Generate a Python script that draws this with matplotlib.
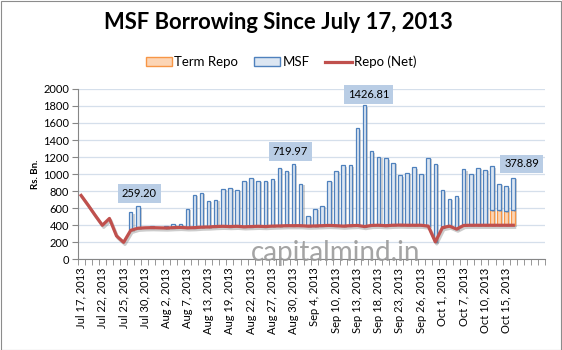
import matplotlib
matplotlib.use("Agg")
import matplotlib.pyplot as plt
import matplotlib.patheffects as pe
from matplotlib.patches import Patch, Rectangle
from matplotlib.lines import Line2D
import numpy as np

plt.rcParams['font.family'] = ['Lato', 'DejaVu Sans']

# business days shown on the axis (holidays skipped), then 4 empty slots
dates = ["Jul 17", "Jul 18", "Jul 19", "Jul 22", "Jul 23", "Jul 24", "Jul 25", "Jul 26",
         "Jul 29", "Jul 30", "Jul 31", "Aug 1", "Aug 2", "Aug 5", "Aug 6", "Aug 7",
         "Aug 8", "Aug 12", "Aug 13", "Aug 14", "Aug 16", "Aug 19", "Aug 20", "Aug 21",
         "Aug 22", "Aug 23", "Aug 26", "Aug 27", "Aug 28", "Aug 29", "Aug 30", "Sep 2",
         "Sep 3", "Sep 4", "Sep 5", "Sep 6", "Sep 10", "Sep 11", "Sep 12", "Sep 13",
         "Sep 16", "Sep 17", "Sep 18", "Sep 19", "Sep 20", "Sep 23", "Sep 24", "Sep 25",
         "Sep 26", "Sep 27", "Sep 30", "Oct 1", "Oct 3", "Oct 4", "Oct 7", "Oct 8",
         "Oct 9", "Oct 10", "Oct 11", "Oct 14", "Oct 15", "Oct 16"]
n_blank = 4

repo_net = [750, 635, 515, 400, 480, 275, 200, 340, 365, 370, 372, 370, 368, 372, 375, 370,
            372, 378, 380, 385, 388, 385, 388, 382, 385, 388, 385, 390, 392, 395, 395, 395,
            390, 392, 395, 398, 395, 390, 395, 398, 385, 398, 400, 395, 400, 402, 400, 400,
            400, 390, 205, 372, 390, 355, 398, 400, 400, 400, 400, 400, 400, 400]

term_repo = [0] * 58 + [176, 176, 164, 180]

msf = [0, 0, 0, 0, 0, 0, 0, 210, 259.20, 0, 20, 0, 25, 48, 45, 225,
       388, 404, 309, 317, 441, 455, 431, 542, 572, 536, 539, 553, 682, 646, 719.97, 492,
       124, 203, 235, 524, 644, 719, 714, 1143, 1426.81, 875, 803, 796, 733, 582, 616, 678,
       604, 804, 917, 437, 322, 384, 664, 604, 674, 651, 514, 311, 292, 378.89]

labelled = [8, 30, 40, 61]

x = np.arange(len(dates))
repo_net = np.array(repo_net)
term_repo = np.array(term_repo)
msf = np.array(msf)

fig = plt.figure(figsize=(5.62, 3.5), dpi=100)
ax = fig.add_axes([0.138, 0.259, 0.832, 0.487])

shadow = [pe.SimplePatchShadow(offset=(1.5, -1.2), shadow_rgbFace='#808080', alpha=0.35), pe.Normal()]

w = 0.5
tb = ax.bar(x, term_repo, w, bottom=repo_net, facecolor='#fcd5b5', edgecolor='#f79646',
            linewidth=0.9, zorder=3)
mb = ax.bar(x, msf, w, bottom=repo_net + term_repo, facecolor='#dce6f2', edgecolor='#4f81bd',
            linewidth=0.9, zorder=3)
for b in list(tb) + list(mb):
    if b.get_height() > 0:
        b.set_path_effects(shadow)
    else:
        b.set_visible(False)

ax.plot(x, repo_net, color='#c0504d', linewidth=2.3, zorder=4,
        path_effects=[pe.SimpleLineShadow(offset=(1, -1.5), shadow_color='#808080', alpha=0.4),
                      pe.Normal()])

# value callouts
offs = {8: (0.2, 150), 30: (-0.5, 150), 40: (0.6, 120), 61: (1.2, 160)}
for i in labelled:
    dx, dy = offs[i]
    top = repo_net[i] + term_repo[i] + msf[i]
    ax.text(i + dx, top + dy, f"{msf[i]:.2f}", ha='center', va='center', fontsize=8,
            zorder=6, bbox=dict(boxstyle='square,pad=0.35', facecolor='#b9cde5', edgecolor='none'))

ntot = len(dates) + n_blank
ax.set_xlim(-0.5, ntot - 0.5)
ax.set_ylim(0, 2000)
ax.set_yticks(range(0, 2001, 200))
ax.yaxis.grid(True, color='#d5dfeb', linewidth=0.9)
ax.set_axisbelow(True)

ax.set_xticks(x[::3])
ax.set_xticklabels([d + ", 2013" for d in dates[::3]], rotation=90, fontsize=8)
ax.set_xticks(np.arange(-0.5, ntot, 1), minor=True)
ax.tick_params(axis='x', which='major', length=0, pad=6)
ax.tick_params(axis='x', which='minor', length=4, color='#868686')
ax.tick_params(axis='y', labelsize=8, length=4, color='#868686', pad=2)

for s in ['top', 'right']:
    ax.spines[s].set_visible(False)
for s in ['left', 'bottom']:
    ax.spines[s].set_color('#868686')

ax.set_ylabel("Rs. Bn.", fontsize=7, fontweight='bold', labelpad=2)

fig.text(0.495, 0.937, "MSF Borrowing Since July 17, 2013", ha='center', va='center',
         fontsize=15.8, fontweight='bold')

handles = [Patch(facecolor='#fcd5b5', edgecolor='#f79646'),
           Patch(facecolor='#dce6f2', edgecolor='#4f81bd'),
           Line2D([], [], color='#c0504d', linewidth=2.3)]
fig.legend(handles, ["Term Repo", "MSF", "Repo (Net)"], loc='center', ncol=3,
           bbox_to_anchor=(0.5, 0.823), frameon=False, fontsize=9.5, handlelength=2.0,
           handleheight=0.6, handletextpad=0.15, columnspacing=1.2)

fig.text(0.598, 0.277, "capitalmind.in", ha='center', va='center', fontsize=20,
         color='#9a9a9a', alpha=0.9, zorder=10)

fig.patches.append(Rectangle((0.001, 0.001), 0.997, 0.997, transform=fig.transFigure,
                             fill=False, edgecolor='#8c8c8c', linewidth=0.8))

fig.savefig("out.png", dpi=100)
